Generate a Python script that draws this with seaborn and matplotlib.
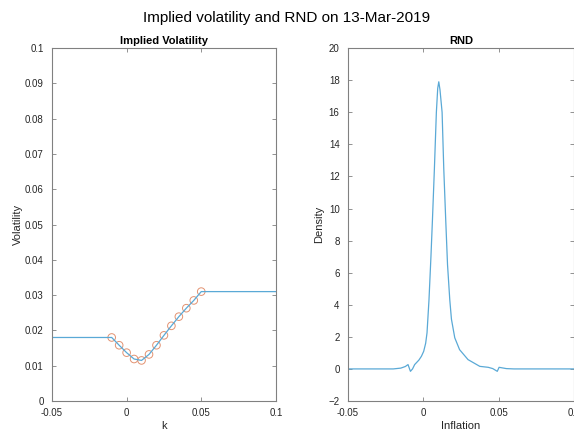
import matplotlib
matplotlib.use("Agg")
import matplotlib.pyplot as plt
import seaborn as sns
import numpy as np
import pandas as pd

# ---- data ----
k_markers = [-0.01, -0.005, 0.0, 0.005, 0.01, 0.015, 0.02, 0.025, 0.03, 0.035, 0.04, 0.045, 0.05]
vol_markers = [0.0180, 0.0158, 0.0137, 0.0119, 0.0115, 0.0132, 0.0158, 0.0186, 0.0213, 0.0239, 0.0263, 0.0285, 0.0310]
k_line = [-0.05] + k_markers + [0.1]
vol_line = [0.0180] + vol_markers + [0.0310]

inflation = [-0.05, -0.02, -0.015, -0.012, -0.0102, -0.0086, -0.0072, -0.0058, -0.003, -0.0013,
             0.0002, 0.0015, 0.0024, 0.0037, 0.005, 0.006, 0.0073, 0.0086, 0.0095, 0.0102,
             0.011, 0.0124, 0.0135, 0.0148, 0.016, 0.0175, 0.0186, 0.0208, 0.024, 0.0296,
             0.0374, 0.043, 0.046, 0.049, 0.0502, 0.055, 0.06, 0.1]
density = [0, 0, 0.05, 0.15, 0.27, -0.15, 0.0, 0.27, 0.55, 0.79,
           1.1, 1.6, 2.25, 4.3, 7.0, 9.3, 12.5, 16.0, 17.5, 17.9,
           17.4, 16.0, 12.5, 9.3, 6.5, 4.3, 3.1, 1.94, 1.2, 0.58,
           0.16, 0.1, 0.02, -0.15, 0.1, 0.02, 0, 0]

title = "Implied volatility and RND on 13-Mar-2019"

sns.set_style("white")
plt.rcParams['font.family'] = ['Liberation Sans', 'DejaVu Sans']

blue = '#5aa9d6'
orange = '#e39271'
spine_c = '#808080'
text_c = '#262626'

fig = plt.figure(figsize=(5.74, 4.33), dpi=100)
ax1 = fig.add_axes([0.0906, 0.0739, 0.390, 0.815])
ax2 = fig.add_axes([0.6063, 0.0739, 0.394, 0.815])

df_line = pd.DataFrame({'k': k_line, 'vol': vol_line})
df_mark = pd.DataFrame({'k': k_markers, 'vol': vol_markers})
sns.lineplot(data=df_line, x='k', y='vol', ax=ax1, color=blue, linewidth=0.9, sort=False)
sns.scatterplot(data=df_mark, x='k', y='vol', ax=ax1, marker='o', s=30,
                facecolors='none', edgecolor=orange, linewidth=0.7)

df_rnd = pd.DataFrame({'inflation': inflation, 'density': density})
sns.lineplot(data=df_rnd, x='inflation', y='density', ax=ax2, color=blue, linewidth=0.9, sort=False)

ax1.set_xlim(-0.05, 0.1)
ax1.set_ylim(0, 0.1)
ax1.set_xticks([-0.05, 0, 0.05, 0.1])
ax1.set_xticklabels(['-0.05', '0', '0.05', '0.1'])
ax1.set_yticks(np.round(np.arange(0, 0.1001, 0.01), 2))
ax1.set_yticklabels(['0', '0.01', '0.02', '0.03', '0.04', '0.05', '0.06', '0.07', '0.08', '0.09', '0.1'])
ax1.set_xlabel('k', fontsize=8, color=text_c, labelpad=2)
ax1.set_ylabel('Volatility', fontsize=8, color=text_c, labelpad=1)
ax1.set_title('Implied Volatility', fontsize=8, fontweight='bold', color='black', pad=3)

ax2.set_xlim(-0.05, 0.1)
ax2.set_ylim(-2, 20)
ax2.set_xticks([-0.05, 0, 0.05, 0.1])
ax2.set_xticklabels(['-0.05', '0', '0.05', '0.1'])
ax2.set_yticks(list(range(-2, 21, 2)))
ax2.set_xlabel('Inflation', fontsize=8, color=text_c, labelpad=2)
ax2.set_ylabel('Density', fontsize=8, color=text_c, labelpad=3)
ax2.set_title('RND', fontsize=8, fontweight='bold', color='black', pad=3)

for ax in (ax1, ax2):
    for s in ax.spines.values():
        s.set_visible(True)
        s.set_color(spine_c)
        s.set_linewidth(0.8)
    ax.tick_params(direction='in', length=3, width=0.6, color=spine_c,
                   labelsize=7, labelcolor=text_c, top=True, right=True,
                   left=True, bottom=True)
    ax.tick_params(axis='x', pad=5)
    ax.tick_params(axis='y', pad=6)

fig.suptitle(title, fontsize=11, y=0.975, color='black')
fig.savefig('out.png', dpi=100)
